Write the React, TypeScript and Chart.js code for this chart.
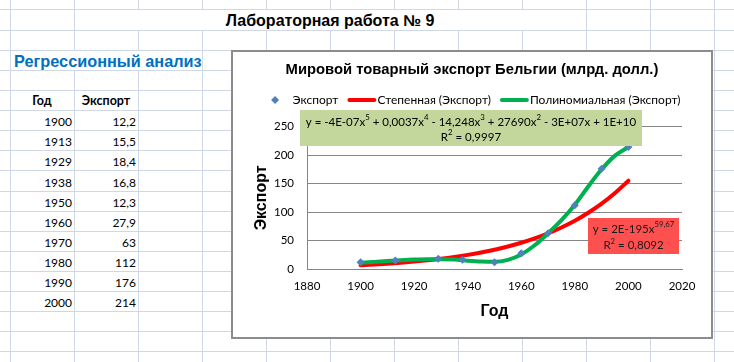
import React, { useEffect, useRef } from 'react';
import { Chart, registerables } from 'chart.js';

Chart.register(...registerables);

// ---------- data ----------
const years = [1900, 1913, 1929, 1938, 1950, 1960, 1970, 1980, 1990, 2000];
const exportValues = [12.2, 15.5, 18.4, 16.8, 12.3, 27.9, 63, 112, 176, 214];

// trend lines, every 5 years
const trendYears = [1900, 1905, 1910, 1915, 1920, 1925, 1930, 1935, 1940, 1945, 1950, 1955, 1960, 1965, 1970, 1975, 1980, 1985, 1990, 1995, 2000];
const powerTrend = [7.3, 8.5, 9.9, 11.6, 13.6, 15.9, 18.5, 21.6, 25.2, 29.4, 34.2, 39.9, 46.4, 54, 62.9, 73.2, 85, 99, 115, 133.5, 155];
const polyTrend = [11.5, 13, 14.5, 16, 17.2, 17.8, 17.8, 17, 15, 13.5, 13, 16.5, 26, 42, 63, 86, 113, 145, 175, 199, 214];

const xTicks = { min: 1880, max: 2020, step: 20 };
const yTicks = { min: 0, max: 250, step: 50 };

const sheetTitle = 'Лабораторная работа № 9';
const sectionTitle = 'Регрессионный анализ';
const tableHeaders = ['Год', 'Экспорт'];
const chartTitle = 'Мировой товарный экспорт Бельгии (млрд. долл.)';
const seriesLabels = ['Экспорт', 'Степенная (Экспорт)', 'Полиномиальная (Экспорт)'];
const xAxisTitle = 'Год';
const yAxisTitle = 'Экспорт';

type Seg = [string, boolean];
const polyEquation: Seg[] = [['y = -4E-07x', false], ['5', true], [' + 0,0037x', false], ['4', true], [' - 14,248x', false], ['3', true], [' + 27690x', false], ['2', true], [' - 3E+07x + 1E+10', false]];
const polyR2: Seg[] = [['R', false], ['2', true], [' = 0,9997', false]];
const powerEquation: Seg[] = [['y = 2E-195x', false], ['59,67', true]];
const powerR2: Seg[] = [['R', false], ['2', true], [' = 0,8092', false]];

// ---------- styles ----------
const CALIBRI = 'Lato, "Open Sans", sans-serif';
const ARIAL = '"Liberation Sans", Arial, sans-serif';
const GRID = '#D0D7E5';
const AXIS_GRAY = '#868686';

const colX = Array.from({ length: 12 }, (_, k) => 10 + 64 * k);
const rowY = [9, 30, 50, 70, 90, 110, 130, 150, 170, 191, 211, 231, 251, 271, 291, 311, 331, 351];

function fmt(v: number) {
  return String(v).replace('.', ',');
}

function drawRich(ctx: CanvasRenderingContext2D, segs: Seg[], cx: number, cy: number, size: number, family: string) {
  const norm = `${size}px ${family}`;
  const sup = `${Math.round(size * 0.68 * 10) / 10}px ${family}`;
  let total = 0;
  const widths = segs.map(([t, s]) => {
    ctx.font = s ? sup : norm;
    const w = ctx.measureText(t).width;
    total += w;
    return w;
  });
  let x = cx - total / 2;
  ctx.textAlign = 'left';
  ctx.textBaseline = 'middle';
  segs.forEach(([t, s], i) => {
    ctx.font = s ? sup : norm;
    ctx.fillText(t, x, s ? cy - size * 0.36 : cy);
    x += widths[i];
  });
}

const excelLegend = {
  id: 'excelLegend',
  afterDraw(chart: any, _a: any, opts: any) {
    const ctx: CanvasRenderingContext2D = chart.ctx;
    const ds = chart.data.datasets;
    ctx.save();
    ctx.font = `${opts.fontSize}px ${opts.family}`;
    ctx.textBaseline = 'middle';
    ctx.textAlign = 'left';
    const items = ds.map((d: any) => {
      const isPoint = !d.showLine;
      return { d, isPoint, symW: isPoint ? 22 : 30, tw: ctx.measureText(d.label).width };
    });
    const gap = opts.gap;
    const total = items.reduce((s: number, it: any) => s + it.symW + it.tw, 0) + gap * (items.length - 1);
    let x = opts.centerX - total / 2;
    const y = opts.y;
    for (const it of items) {
      if (it.isPoint) {
        const r = it.d.pointRadius;
        const cx = x + 4.5;
        ctx.fillStyle = it.d.backgroundColor;
        ctx.beginPath();
        ctx.moveTo(cx - r, y);
        ctx.lineTo(cx, y - r);
        ctx.lineTo(cx + r, y);
        ctx.lineTo(cx, y + r);
        ctx.closePath();
        ctx.fill();
      } else {
        ctx.strokeStyle = it.d.borderColor;
        ctx.lineWidth = it.d.borderWidth;
        ctx.lineCap = 'round';
        ctx.beginPath();
        ctx.moveTo(x + 2, y);
        ctx.lineTo(x + 27, y);
        ctx.stroke();
      }
      ctx.fillStyle = '#000';
      ctx.fillText(it.d.label, x + it.symW, y);
      x += it.symW + it.tw + gap;
    }
    ctx.restore();
  },
};

const trendLabels = {
  id: 'trendLabels',
  afterDraw(chart: any, _a: any, opts: any) {
    const ctx: CanvasRenderingContext2D = chart.ctx;
    const xs = chart.scales.x;
    const ys = chart.scales.y;
    ctx.save();
    for (const b of opts.boxes) {
      const cx = xs.getPixelForValue(b.xVal);
      const cy = ys.getPixelForValue(b.yVal);
      ctx.fillStyle = b.bg;
      ctx.fillRect(Math.round(cx - b.w / 2), Math.round(cy - b.h / 2), b.w, b.h);
      ctx.fillStyle = b.color;
      drawRich(ctx, b.lines[0], cx, cy + b.dy[0], opts.fontSize, opts.family);
      drawRich(ctx, b.lines[1], cx, cy + b.dy[1], opts.fontSize, opts.family);
    }
    ctx.restore();
  },
};

function ChartBox() {
  const ref = useRef<HTMLCanvasElement | null>(null);
  useEffect(() => {
    if (!ref.current) return;
    const chart = new Chart(ref.current, {
      type: 'scatter',
      data: {
        datasets: [
          {
            label: seriesLabels[0],
            data: years.map((yr, i) => ({ x: yr, y: exportValues[i] })),
            showLine: false,
            pointStyle: 'rectRot',
            pointRadius: 4,
            pointBorderWidth: 0,
            backgroundColor: '#4F81BD',
            borderColor: '#4F81BD',
            order: 0,
          },
          {
            label: seriesLabels[1],
            data: trendYears.map((yr, i) => ({ x: yr, y: powerTrend[i] })),
            showLine: true,
            pointRadius: 0,
            borderColor: '#FF0000',
            backgroundColor: '#FF0000',
            borderWidth: 4,
            borderCapStyle: 'round',
            cubicInterpolationMode: 'monotone',
            order: 2,
          },
          {
            label: seriesLabels[2],
            data: trendYears.map((yr, i) => ({ x: yr, y: polyTrend[i] })),
            showLine: true,
            pointRadius: 0,
            borderColor: '#00B050',
            backgroundColor: '#00B050',
            borderWidth: 4,
            borderCapStyle: 'round',
            cubicInterpolationMode: 'monotone',
            order: 1,
          },
        ],
      } as any,
      options: {
        responsive: false,
        animation: false,
        events: [],
        layout: { padding: { left: 0, right: 0, top: 0, bottom: 0 } },
        plugins: {
          legend: { display: false },
          tooltip: { enabled: false },
          title: {
            display: true,
            text: chartTitle,
            color: '#000',
            font: { family: ARIAL, size: 14.8, weight: 'bold', lineHeight: 1.2 },
            padding: { top: 9.1, bottom: 47.6 },
          },
          excelLegend: { fontSize: 12, family: CALIBRI, centerX: 242.5, y: 48, gap: 9 },
          trendLabels: {
            fontSize: 11.5,
            family: CALIBRI,
            boxes: [
              { xVal: 1941.2, yVal: 247.9, w: 342, h: 36, bg: '#C3D69B', color: '#000', lines: [polyEquation, polyR2], dy: [-5.6, 9.4] },
              { xVal: 2001.9, yVal: 57.9, w: 91, h: 36, bg: '#FF5050', color: '#1a1a1a', lines: [powerEquation, powerR2], dy: [-7.3, 9.4] },
            ],
          },
        } as any,
        scales: {
          x: {
            type: 'linear',
            min: xTicks.min,
            max: xTicks.max,
            ticks: {
              stepSize: xTicks.step,
              color: '#000',
              padding: 10,
              font: { family: CALIBRI, size: 11.5 },
              maxRotation: 0,
              autoSkip: false,
              callback: (v: any) => String(v),
            },
            grid: { display: false, drawTicks: false },
            border: { display: true, color: AXIS_GRAY, width: 1 },
            title: {
              display: true,
              text: xAxisTitle,
              color: '#000',
              font: { family: ARIAL, size: 16, weight: 'bold', lineHeight: 1.2 },
              padding: { top: 0, bottom: 15.7 },
            },
            afterFit: (s: any) => {
              s.height = 67.7;
            },
          },
          y: {
            type: 'linear',
            min: yTicks.min,
            max: yTicks.max,
            ticks: {
              stepSize: yTicks.step,
              color: '#000',
              padding: 13,
              font: { family: CALIBRI, size: 11.5 },
              callback: (v: any) => String(v),
            },
            grid: { color: AXIS_GRAY, drawTicks: false, lineWidth: 1 },
            border: { display: true, color: AXIS_GRAY, width: 1 },
            title: {
              display: true,
              text: yAxisTitle,
              color: '#000',
              font: { family: ARIAL, size: 16, weight: 'bold', lineHeight: 1.2 },
              padding: { top: 19.1, bottom: 0 },
            },
            afterFit: (s: any) => {
              s.width = 74;
            },
          },
          // empty right margin of the plot area (keeps the title centred on the whole chart)
          yRight: {
            type: 'linear',
            position: 'right',
            display: true,
            min: yTicks.min,
            max: yTicks.max,
            ticks: { display: false },
            grid: { display: false, drawTicks: false },
            border: { display: false },
            title: { display: false },
            afterFit: (s: any) => {
              s.width = 29;
            },
          },
        },
      } as any,
      plugins: [excelLegend, trendLabels],
    });
    if ((document as any).fonts && (document as any).fonts.ready) {
      (document as any).fonts.ready.then(() => chart.update());
    }
    return () => chart.destroy();
  }, []);
  return <canvas ref={ref} width={478} height={285} style={{ position: 'absolute', left: 233, top: 52, width: 478, height: 285 }} />;
}

export default function App() {
  const rowH = (i: number) => rowY[i + 1] - rowY[i];
  const cellText = (key: string, text: string, left: number, width: number, rowIdx: number, align: 'left' | 'center' | 'right', font: string, size: number, bold: boolean, color: string, shift: number) => (
    <div
      key={key}
      style={{
        position: 'absolute',
        left,
        width,
        top: rowY[rowIdx] + shift,
        height: rowH(rowIdx),
        lineHeight: `${rowH(rowIdx)}px`,
        textAlign: align,
        fontFamily: font,
        fontSize: size,
        fontWeight: bold ? 'bold' : 'normal',
        color,
        whiteSpace: 'nowrap',
      }}
    >
      {text}
    </div>
  );
  return (
    <div style={{ position: 'fixed', left: 0, top: 0, width: 734, height: 362, background: '#fff', overflow: 'hidden' }}>
      {colX.map((x) => (
        <div key={'c' + x} style={{ position: 'absolute', left: x, top: 0, width: 1, height: 362, background: GRID }} />
      ))}
      {rowY.map((y) => (
        <div key={'r' + y} style={{ position: 'absolute', left: 0, top: y, width: 734, height: 1, background: GRID }} />
      ))}
      {/* merged / overflow cells hide gridlines */}
      <div style={{ position: 'absolute', left: 75, top: 10, width: 511, height: 20, background: '#fff' }} />
      <div style={{ position: 'absolute', left: 11, top: 51, width: 191, height: 19, background: '#fff' }} />

      {cellText('title', sheetTitle, 74, 512, 0, 'center', ARIAL, 16, true, '#000', 1)}
      {cellText('section', sectionTitle, 14, 200, 2, 'left', ARIAL, 16.3, true, '#0070C0', 1)}
      {cellText('h0', tableHeaders[0], 10, 64, 4, 'center', CALIBRI, 12.5, true, '#000', 1)}
      {cellText('h1', tableHeaders[1], 74, 64, 4, 'center', CALIBRI, 12.5, true, '#000', 1)}
      {years.map((yr, i) => cellText('y' + i, String(yr), 10, 62, 5 + i, 'right', CALIBRI, 12, false, '#000', 2))}
      {exportValues.map((v, i) => cellText('v' + i, fmt(v), 74, 62, 5 + i, 'right', CALIBRI, 12, false, '#000', 2))}

      <div style={{ position: 'absolute', left: 231, top: 50, width: 482, height: 289, boxSizing: 'border-box', border: '2px solid #8c8c8c', background: '#fff' }} />
      <ChartBox />
    </div>
  );
}
